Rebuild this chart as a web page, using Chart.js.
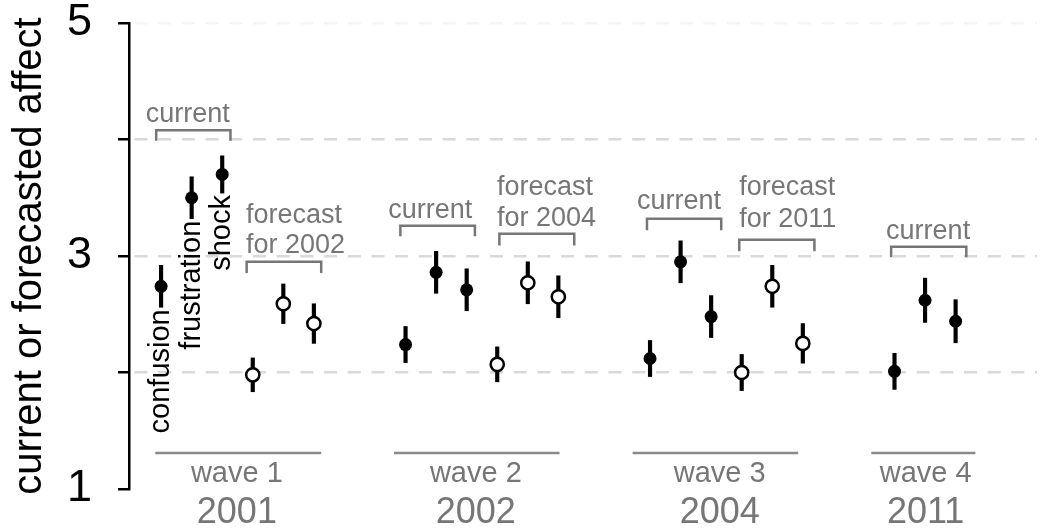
<!DOCTYPE html>
<html>
<head>
<meta charset="utf-8">
<script src="https://cdn.jsdelivr.net/npm/chart.js@4"></script>
<style>
  html, body { margin: 0; padding: 0; background: #fff; }
  #wrap { width: 1046px; height: 529px; }
</style>
</head>
<body>
<div id="wrap"><canvas id="chart" width="1046" height="529"></canvas></div>
<script>
// values
const emotions = ['confusion', 'frustration', 'shock'];
const waveNames = ['wave 1', 'wave 2', 'wave 3', 'wave 4'];
const waveYears = ['2001', '2002', '2004', '2011'];
const forecastYears = ['for 2002', 'for 2004', 'for 2011'];
const yTickLabels = { 1: '1', 3: '3', 5: '5' };

// current affect, one row per wave (confusion, frustration, shock)
const currentMeans = [
  [2.74, 3.50, 3.70],
  [2.24, 2.86, 2.71],
  [2.12, 2.95, 2.48],
  [2.01, 2.62, 2.44]
];
const currentErrors = [
  [0.18, 0.18, 0.16],
  [0.155, 0.18, 0.18],
  [0.155, 0.18, 0.18],
  [0.155, 0.19, 0.185]
];
// forecasted affect for the next wave
const forecastMeans = [
  [1.98, 2.59, 2.42],
  [2.07, 2.77, 2.65],
  [2.00, 2.74, 2.25]
];
const forecastErrors = [
  [0.145, 0.17, 0.17],
  [0.15, 0.18, 0.18],
  [0.155, 0.18, 0.17]
];

// layout of the bracket / wave annotations, in axis units
const GROUP = 8;
const currentBrackets = [
  { x0: -0.16, x1: 2.27, top: 4.08, foot: 3.99, tx: 0.87, ty: 4.15 },
  { x0: 7.83, x1: 10.27, top: 3.26, foot: 3.17, tx: 8.81, ty: 3.33 },
  { x0: 15.9, x1: 18.33, top: 3.32, foot: 3.22, tx: 16.95, ty: 3.40 },
  { x0: 23.89, x1: 26.35, top: 3.08, foot: 2.99, tx: 25.1, ty: 3.145 }
];
const forecastBrackets = [
  { x0: 2.80, x1: 5.24, top: 2.95, foot: 2.855, tx: 2.78, ty1: 3.28, ty2: 3.03 },
  { x0: 11.07, x1: 13.52, top: 3.19, foot: 3.09, tx: 10.99, ty1: 3.52, ty2: 3.26 },
  { x0: 18.92, x1: 21.38, top: 3.14, foot: 3.04, tx: 18.92, ty1: 3.52, ty2: 3.25 }
];
const waveLines = [
  { x0: -0.19, x1: 5.24, tx: 2.48 },
  { x0: 7.62, x1: 13.04, tx: 10.3 },
  { x0: 15.43, x1: 20.85, tx: 18.28 },
  { x0: 23.24, x1: 26.65, tx: 25.02 }
];

const FONT = "'Liberation Sans', Arial, Helvetica, sans-serif";
const GRAY = '#767676';
Chart.defaults.font.family = FONT;

// build points and error bars
const currentPoints = [];
const forecastPoints = [];
const errorBars = [];
currentMeans.forEach(function(row, w) {
  row.forEach(function(m, i) {
    const x = w * GROUP + i;
    const e = currentErrors[w][i];
    currentPoints.push({ x: x, y: m });
    errorBars.push({ x: x, y: [m - e, m + e] });
  });
});
forecastMeans.forEach(function(row, w) {
  row.forEach(function(m, i) {
    const x = w * GROUP + 3 + i;
    const e = forecastErrors[w][i];
    forecastPoints.push({ x: x, y: m });
    errorBars.push({ x: x, y: [m - e, m + e] });
  });
});

const annotations = {
  id: 'annotations',
  afterDraw(chart) {
    const ctx = chart.ctx;
    const xs = chart.scales.x;
    const ys = chart.scales.y;
    const px = v => xs.getPixelForValue(v);
    const py = v => ys.getPixelForValue(v);

    ctx.save();
    ctx.strokeStyle = GRAY;
    ctx.fillStyle = GRAY;
    ctx.lineWidth = 2.5;
    ctx.lineJoin = 'miter';
    ctx.textBaseline = 'alphabetic';

    function bracket(b) {
      ctx.beginPath();
      ctx.moveTo(px(b.x0), py(b.foot));
      ctx.lineTo(px(b.x0), py(b.top));
      ctx.lineTo(px(b.x1), py(b.top));
      ctx.lineTo(px(b.x1), py(b.foot));
      ctx.stroke();
    }

    ctx.font = '27px ' + FONT;
    currentBrackets.forEach(function(b) {
      bracket(b);
      ctx.textAlign = 'center';
      ctx.fillText('current', px(b.tx), py(b.ty));
    });
    forecastBrackets.forEach(function(b, i) {
      bracket(b);
      ctx.textAlign = 'left';
      ctx.fillText('forecast', px(b.tx), py(b.ty1));
      ctx.fillText(forecastYears[i], px(b.tx), py(b.ty2));
    });

    // wave lines and labels under the groups
    ctx.strokeStyle = '#8a8a8a';
    waveLines.forEach(function(l, i) {
      ctx.beginPath();
      ctx.moveTo(px(l.x0), py(1.31));
      ctx.lineTo(px(l.x1), py(1.31));
      ctx.stroke();
      ctx.textAlign = 'center';
      ctx.font = '29px ' + FONT;
      ctx.fillText(waveNames[i], px(l.tx), py(1.06));
      ctx.font = '36px ' + FONT;
      ctx.fillText(waveYears[i], px(l.tx), py(0.705));
    });

    // emotion names under the first wave's error bars
    ctx.fillStyle = '#000';
    ctx.font = '29px ' + FONT;
    ctx.textAlign = 'right';
    ctx.textBaseline = 'middle';
    emotions.forEach(function(name, i) {
      const low = currentMeans[0][i] - currentErrors[0][i];
      ctx.save();
      ctx.translate(px(i), py(low) + 2);
      ctx.rotate(-Math.PI / 2);
      ctx.fillText(name, 0, 0);
      ctx.restore();
    });
    ctx.restore();
  }
};

new Chart(document.getElementById('chart'), {
  type: 'scatter',
  data: {
    datasets: [
      {
        type: 'bar',
        data: errorBars,
        backgroundColor: '#000',
        borderWidth: 0,
        barThickness: 3.5,
        order: 3
      },
      {
        data: currentPoints,
        pointRadius: 6.5,
        pointHoverRadius: 6.5,
        backgroundColor: '#000',
        borderWidth: 0,
        order: 2
      },
      {
        data: forecastPoints,
        pointRadius: 6.6,
        pointHoverRadius: 6.6,
        backgroundColor: '#fff',
        borderColor: '#000',
        borderWidth: 2.5,
        order: 1
      }
    ]
  },
  options: {
    responsive: false,
    animation: false,
    events: [],
    layout: { padding: { top: 23, bottom: 40, left: 0, right: 0 } },
    plugins: {
      legend: { display: false },
      tooltip: { enabled: false }
    },
    scales: {
      x: {
        type: 'linear',
        display: false,
        offset: false,
        min: -1.05,
        max: 28.66,
        grid: { offset: false }
      },
      y: {
        min: 1,
        max: 5,
        beginAtZero: false,
        ticks: {
          stepSize: 1,
          padding: 26,
          color: '#000',
          font: { size: 45, lineHeight: 1 },
          callback: v => yTickLabels[v] || ''
        },
        grid: {
          color: c => (c.tick.value > 1 && c.tick.value < 5) ? '#d9d9d9' : (c.tick.value === 5 ? '#f5f5f5' : 'rgba(0,0,0,0)'),
          lineWidth: 2.5,
          tickLength: 11,
          tickWidth: 2.5,
          tickColor: '#000'
        },
        border: { color: '#000', width: 2.5, dash: [13, 10.7], dashOffset: 19.7 },
        title: {
          display: true,
          text: 'current or forecasted affect',
          color: '#000',
          font: { size: 40 },
          padding: { top: 5.5, bottom: 0 }
        },
        afterFit: function(scale) {
          scale.width = 129;
          // the big tick labels should not push the plot area inwards
          scale.paddingTop = 0;
          scale.paddingBottom = 0;
        }
      }
    }
  },
  plugins: [annotations]
});
</script>
</body>
</html>
